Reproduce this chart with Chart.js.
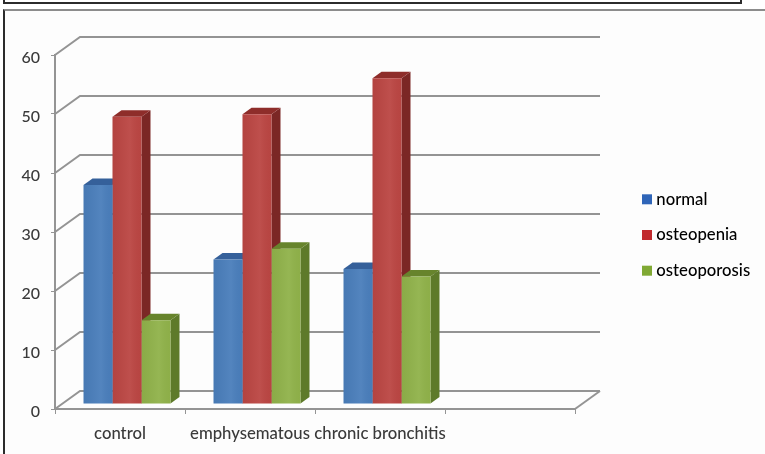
<!DOCTYPE html>
<html>
<head>
<meta charset="utf-8">
<title>Bone density by group</title>
<script src="https://cdn.jsdelivr.net/npm/chart.js@4/dist/chart.umd.min.js"></script>
<style>
    html, body { margin: 0; padding: 0; background: #fff; overflow: hidden; }
    #page { position: relative; width: 765px; height: 454px; }
    #grafico { position: absolute; left: 0; top: 0; }
    /* borde de la tabla anterior y del recuadro del grafico */
    #marcoSuperior { position: absolute; left: 3px; top: -6px; width: 735px; height: 6px; border: 2px solid #2b2b2b; }
    #marcoGrafico { position: absolute; left: 3px; top: 9px; right: 0; bottom: -4px; background: #fdfdfd; border-top: 2px solid #8c8c8c; border-left: 2px solid #2b2b2b; }
</style>
</head>
<body>
<div id="page">
    <div id="marcoSuperior"></div>
    <div id="marcoGrafico"></div>
    <canvas id="grafico" width="765" height="454"></canvas>
</div>
<script>
const categorias = ['control', 'emphysematous', 'chronic bronchitis', ''];
const normal = [37.1, 24.5, 22.9, null];
const osteopenia = [48.7, 49.1, 55.2, null];
const osteoporosis = [14.2, 26.3, 21.6, null];
const valoresEje = [0, 10, 20, 30, 40, 50, 60];

const coloresFrente = ['#4a7ebb', '#bb4643', '#90b24a'];
const coloresTapa = ['#35609a', '#8e2d2a', '#67842c'];
const coloresLado = ['#2f5689', '#7b2725', '#5e7a2a'];
const coloresLeyenda = ['#2f65b8', '#c12a2e', '#80a934'];

// Profundidad del piso y de cada barra (efecto 3D)
const PISO = { x: 25, y: 18 };
const BARRA = { x: 9, y: 6.5 };
const DESPLAZAMIENTO = { x: 7, y: -5 };

function linea(ctx, puntos) {
    ctx.beginPath();
    puntos.forEach((p, i) => i ? ctx.lineTo(p[0], p[1]) : ctx.moveTo(p[0], p[1]));
    ctx.stroke();
}

function poligono(ctx, color, puntos) {
    ctx.fillStyle = color;
    ctx.beginPath();
    puntos.forEach((p, i) => i ? ctx.lineTo(p[0], p[1]) : ctx.moveTo(p[0], p[1]));
    ctx.closePath();
    ctx.fill();
}

const efecto3d = {
    id: 'efecto3d',
    afterLayout(chart) {
        // la leyenda va a la derecha, fuera del area de las barras
        const leyenda = chart.legend;
        leyenda.left = 627;
        leyenda.right = 765;
        leyenda.top = 170;
        leyenda.bottom = 300;
    },
    beforeDraw(chart) {
        // etiquetas del eje Y un poco por debajo de su marca
        chart.scales.y.getLabelItems(chart.chartArea).forEach(item => {
            if (!item.movida) {
                item.options.translation[1] += 2.5;
                item.movida = true;
            }
        });
    },
    beforeDatasetsDraw(chart) {
        const ctx = chart.ctx;
        const area = chart.chartArea;
        const ejeY = chart.scales.y;

        // paredes y piso
        ctx.save();
        ctx.strokeStyle = '#949494';
        ctx.lineWidth = 2;
        valoresEje.forEach(v => {
            const y = ejeY.getPixelForValue(v);
            linea(ctx, [[area.left, y], [area.left + PISO.x, y - PISO.y], [area.right + PISO.x, y - PISO.y]]);
        });
        linea(ctx, [[area.right, area.bottom], [area.right + PISO.x, area.bottom - PISO.y]]);

        // caras laterales y superiores, por serie
        ctx.translate(DESPLAZAMIENTO.x, DESPLAZAMIENTO.y);
        chart.data.datasets.forEach((ds, i) => {
            chart.getDatasetMeta(i).data.forEach((barra, j) => {
                if (ds.data[j] === null) return;
                const izq = barra.x - barra.width / 2;
                const der = barra.x + barra.width / 2;
                poligono(ctx, coloresLado[i], [[der, barra.y], [der + BARRA.x, barra.y - BARRA.y], [der + BARRA.x, barra.base - BARRA.y], [der, barra.base]]);
                poligono(ctx, coloresTapa[i], [[izq, barra.y], [izq + BARRA.x, barra.y - BARRA.y], [der + BARRA.x, barra.y - BARRA.y], [der, barra.y]]);
            });
        });
        ctx.restore();

        // el frente de las barras se dibuja movido sobre el piso
        ctx.save();
        ctx.translate(DESPLAZAMIENTO.x, DESPLAZAMIENTO.y);
    },
    afterDatasetsDraw(chart) {
        const ctx = chart.ctx;
        // brillo suave en el frente
        chart.data.datasets.forEach((ds, i) => {
            chart.getDatasetMeta(i).data.forEach((barra, j) => {
                if (ds.data[j] === null) return;
                const izq = barra.x - barra.width / 2;
                const brillo = ctx.createLinearGradient(izq, 0, izq + barra.width, 0);
                brillo.addColorStop(0, 'rgba(0,0,0,0.04)');
                brillo.addColorStop(0.6, 'rgba(255,255,255,0.05)');
                brillo.addColorStop(1, 'rgba(0,0,0,0.02)');
                ctx.fillStyle = brillo;
                ctx.fillRect(izq, barra.y, barra.width, barra.base - barra.y);
            });
        });
        ctx.restore();
    }
};

const fuente = { family: 'Lato', size: 16.7, weight: '500' };
const ctx = document.getElementById('grafico').getContext('2d');

const myChart = new Chart(ctx, {
    type: 'bar',
    data: {
        labels: categorias,
        datasets: [
            { label: 'normal', data: normal, backgroundColor: coloresFrente[0] },
            { label: 'osteopenia', data: osteopenia, backgroundColor: coloresFrente[1] },
            { label: 'osteoporosis', data: osteoporosis, backgroundColor: coloresFrente[2] }
        ]
    },
    options: {
        responsive: false,
        animation: false,
        layout: { padding: { top: 55, right: 190, left: 0, bottom: 0 } },
        datasets: { bar: { categoryPercentage: 0.669, barPercentage: 1 } },
        scales: {
            x: {
                afterFit(escala) { escala.height = 45; },
                border: { color: '#949494', width: 2 },
                grid: { offset: true, drawOnChartArea: false, color: '#949494', tickLength: 5 },
                ticks: { color: '#3a3a3a', font: fuente, padding: 10, maxRotation: 0, autoSkip: false }
            },
            y: {
                min: 0,
                max: 60,
                afterFit(escala) { escala.width = 55; },
                border: { color: '#949494', width: 2 },
                grid: { drawOnChartArea: false, color: '#949494', tickLength: 4 },
                ticks: { color: '#3a3a3a', font: { family: 'Lato', size: 16, weight: '500' }, stepSize: 10, padding: 11 }
            }
        },
        plugins: {
            tooltip: { enabled: false },
            legend: {
                position: 'chartArea',
                labels: {
                    color: '#3a3a3a',
                    font: fuente,
                    boxWidth: 2,
                    boxHeight: 2,
                    padding: 19,
                    generateLabels(chart) {
                        return chart.data.datasets.map((ds, i) => ({
                            text: ds.label,
                            fillStyle: coloresLeyenda[i],
                            strokeStyle: coloresLeyenda[i],
                            lineWidth: 8,
                            datasetIndex: i
                        }));
                    }
                }
            }
        }
    },
    plugins: [efecto3d]
});
</script>
</body>
</html>
